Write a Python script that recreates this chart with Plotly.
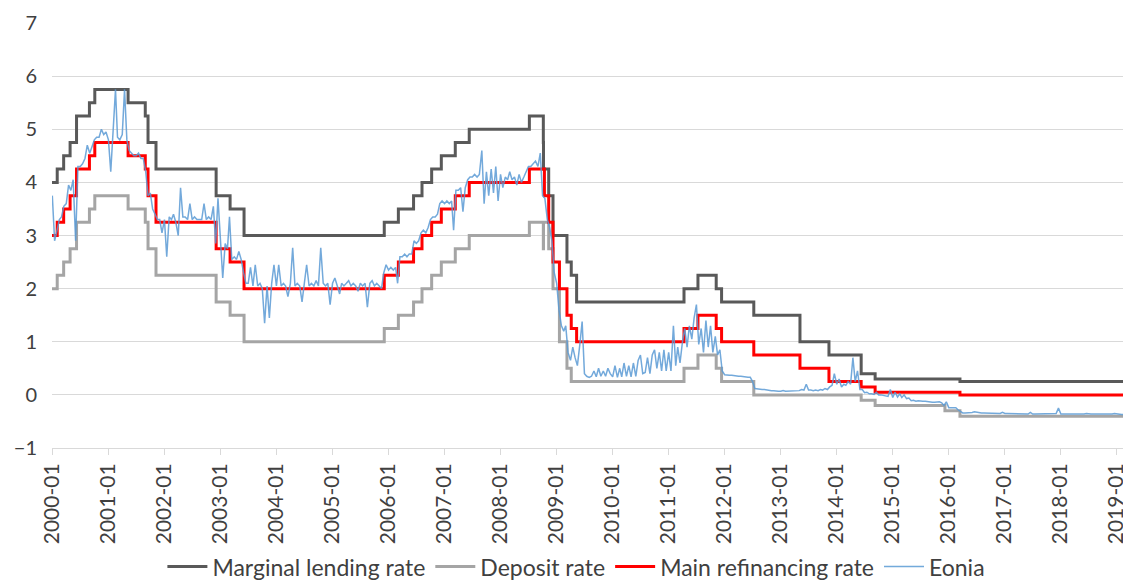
import pandas as pd
import plotly.graph_objects as go

# ---------------- Policy rates (change dates and levels) ----------------
mlf_dates = ["2000-01-01", "2000-02-04", "2000-03-17", "2000-04-28", "2000-06-09", "2000-09-01",
             "2000-10-06", "2001-05-11", "2001-08-31", "2001-09-18", "2001-11-09", "2002-12-06",
             "2003-03-07", "2003-06-06", "2005-12-06", "2006-03-08", "2006-06-15", "2006-08-09",
             "2006-10-11", "2006-12-13", "2007-03-14", "2007-06-13", "2008-07-09", "2008-10-08",
             "2008-10-09", "2008-11-12", "2008-12-10", "2009-03-11", "2009-04-08", "2009-05-13",
             "2011-04-13", "2011-07-13", "2011-11-09", "2011-12-14", "2012-07-11", "2013-05-08",
             "2013-11-13", "2014-06-11", "2014-09-10", "2016-03-16", "2019-03-31"]
mlf_values = [4.00, 4.25, 4.50, 4.75, 5.25, 5.50,
              5.75, 5.50, 5.25, 4.75, 4.25, 3.75,
              3.50, 3.00, 3.25, 3.50, 3.75, 4.00,
              4.25, 4.50, 4.75, 5.00, 5.25, 4.75,
              4.25, 3.75, 3.00, 2.50, 2.25, 1.75,
              2.00, 2.25, 2.00, 1.75, 1.50, 1.00,
              0.75, 0.40, 0.30, 0.25, 0.25]

dep_dates = ["2000-01-01", "2000-02-04", "2000-03-17", "2000-04-28", "2000-06-09", "2000-09-01",
             "2000-10-06", "2001-05-11", "2001-08-31", "2001-09-18", "2001-11-09", "2002-12-06",
             "2003-03-07", "2003-06-06", "2005-12-06", "2006-03-08", "2006-06-15", "2006-08-09",
             "2006-10-11", "2006-12-13", "2007-03-14", "2007-06-13", "2008-07-09", "2008-10-08",
             "2008-10-09", "2008-11-12", "2008-12-10", "2009-01-21", "2009-03-11", "2009-04-08",
             "2011-04-13", "2011-07-13", "2011-11-09", "2011-12-14", "2012-07-11", "2014-06-11",
             "2014-09-10", "2015-12-09", "2016-03-16", "2019-03-31"]
dep_values = [2.00, 2.25, 2.50, 2.75, 3.25, 3.50,
              3.75, 3.50, 3.25, 2.75, 2.25, 1.75,
              1.50, 1.00, 1.25, 1.50, 1.75, 2.00,
              2.25, 2.50, 2.75, 3.00, 3.25, 2.75,
              3.25, 2.75, 2.00, 1.00, 0.50, 0.25,
              0.50, 0.75, 0.50, 0.25, 0.00, -0.10,
              -0.20, -0.30, -0.40, -0.40]

mro_dates = ["2000-01-01", "2000-02-04", "2000-03-17", "2000-04-28", "2000-06-09", "2000-09-01",
             "2000-10-06", "2001-05-11", "2001-08-31", "2001-09-18", "2001-11-09", "2002-12-06",
             "2003-03-07", "2003-06-06", "2005-12-06", "2006-03-08", "2006-06-15", "2006-08-09",
             "2006-10-11", "2006-12-13", "2007-03-14", "2007-06-13", "2008-07-09", "2008-10-15",
             "2008-11-12", "2008-12-10", "2009-01-21", "2009-03-11", "2009-04-08", "2009-05-13",
             "2011-04-13", "2011-07-13", "2011-11-09", "2011-12-14", "2012-07-11", "2013-05-08",
             "2013-11-13", "2014-06-11", "2014-09-10", "2016-03-16", "2019-03-31"]
mro_values = [3.00, 3.25, 3.50, 3.75, 4.25, 4.50,
              4.75, 4.50, 4.25, 3.75, 3.25, 2.75,
              2.50, 2.00, 2.25, 2.50, 2.75, 3.00,
              3.25, 3.50, 3.75, 4.00, 4.25, 3.75,
              3.25, 2.50, 2.00, 1.50, 1.25, 1.00,
              1.25, 1.50, 1.25, 1.00, 0.75, 0.50,
              0.25, 0.15, 0.05, 0.00, 0.00]

# ---------------- Eonia (two readings per month) ----------------
eonia_2000 = [3.75, 2.90, 3.10, 3.30, 3.35, 3.55, 3.60, 3.95, 3.85, 4.05, 2.90, 4.30,
              4.30, 4.35, 4.45, 4.70, 4.55, 4.70, 4.80, 4.85, 4.85, 5.00, 4.90, 4.95]
eonia_2001 = [4.80, 4.20, 4.90, 5.75, 4.85, 4.80, 4.90, 5.75, 4.80, 4.60, 4.55, 4.50,
              4.50, 4.55, 4.45, 4.45, 4.20, 3.75, 3.80, 3.50, 3.40, 3.30, 3.30, 3.05]
eonia_2002 = [3.30, 2.60, 3.35, 3.30, 3.40, 3.25, 3.00, 3.90, 3.35, 3.35, 3.30, 3.60,
              3.30, 3.35, 3.30, 3.30, 3.30, 3.60, 3.30, 3.35, 3.30, 3.55, 2.85, 3.70]
eonia_2003 = [2.80, 2.20, 2.85, 2.75, 3.35, 2.55, 2.60, 2.55, 2.70, 2.55, 2.30, 2.10,
              2.10, 2.40, 2.05, 2.45, 2.05, 2.10, 2.00, 1.35, 2.05, 1.45, 2.10, 2.45]
eonia_2004 = [2.05, 2.45, 2.05, 2.10, 2.05, 1.85, 2.10, 2.77, 2.05, 2.10, 2.05, 1.75,
              2.10, 2.45, 2.05, 2.10, 2.05, 2.15, 2.05, 2.77, 2.10, 2.05, 2.10, 1.70]
eonia_2005 = [2.10, 2.20, 2.05, 1.90, 2.10, 2.05, 2.10, 2.15, 2.05, 2.10, 2.05, 1.95,
              2.10, 2.05, 2.10, 1.65, 2.10, 2.15, 2.05, 2.10, 2.05, 2.00, 2.30, 2.45]
eonia_2006 = [2.35, 2.40, 2.35, 2.40, 2.10, 2.60, 2.60, 2.65, 2.60, 2.65, 2.65, 2.90,
              2.85, 2.90, 3.05, 3.10, 3.05, 3.15, 3.30, 3.35, 3.35, 3.40, 3.60, 3.65]
eonia_2007 = [3.60, 3.65, 3.60, 3.65, 3.10, 3.85, 3.85, 3.90, 3.45, 3.90, 4.05, 4.10,
              4.10, 4.15, 4.10, 4.15, 4.60, 3.60, 4.20, 3.75, 4.25, 3.80, 4.30, 3.65]
eonia_2008 = [4.15, 3.90, 4.10, 4.05, 4.20, 4.05, 4.10, 3.95, 4.15, 4.00, 4.10, 4.20,
              4.30, 4.30, 4.35, 4.40, 4.30, 4.55, 3.75, 3.70, 3.30, 3.15, 2.90, 2.30]
eonia_2009 = [2.10, 1.60, 1.30, 1.20, 1.30, 0.80, 0.65, 0.90, 0.70, 0.55, 0.95, 1.38,
              0.40, 0.35, 0.33, 0.35, 0.45, 0.34, 0.50, 0.35, 0.45, 0.35, 0.50, 0.40]
eonia_2010 = [0.34, 0.55, 0.33, 0.50, 0.34, 0.60, 0.35, 0.55, 0.34, 0.60, 0.35, 0.65,
              0.75, 0.40, 0.42, 0.70, 0.40, 0.75, 0.85, 0.50, 0.80, 0.45, 0.85, 0.45]
eonia_2011 = [0.80, 0.45, 1.30, 0.55, 0.90, 0.60, 1.00, 1.25, 0.90, 1.30, 1.05, 1.45,
              1.70, 0.95, 1.25, 0.80, 1.40, 0.90, 1.30, 0.80, 1.10, 0.75, 0.85, 0.45]
eonia_2012 = [0.38, 0.37, 0.37, 0.37, 0.36, 0.36, 0.35, 0.35, 0.34, 0.34, 0.33, 0.33,
              0.25, 0.12, 0.11, 0.11, 0.10, 0.10, 0.09, 0.09, 0.08, 0.08, 0.07, 0.07]
eonia_2013 = [0.07, 0.08, 0.07, 0.07, 0.07, 0.08, 0.07, 0.08, 0.08, 0.10, 0.09, 0.20,
              0.09, 0.09, 0.08, 0.09, 0.08, 0.10, 0.09, 0.12, 0.10, 0.15, 0.18, 0.40]
eonia_2014 = [0.20, 0.30, 0.15, 0.20, 0.18, 0.25, 0.20, 0.70, 0.25, 0.45, 0.10, 0.10,
              0.04, 0.05, 0.02, 0.02, 0.01, 0.05, 0.00, 0.00, -0.01, -0.01, -0.03, 0.10]
eonia_2015 = [-0.05, 0.05, -0.04, 0.02, -0.05, 0.00, -0.07, -0.06, -0.11, -0.10, -0.12, -0.11,
              -0.12, -0.12, -0.12, -0.13, -0.14, -0.14, -0.14, -0.14, -0.13, -0.15, -0.20, -0.13]
eonia_2016 = [-0.24, -0.24, -0.24, -0.24, -0.28, -0.31, -0.34, -0.34, -0.34, -0.34, -0.33, -0.32,
              -0.33, -0.33, -0.34, -0.34, -0.34, -0.34, -0.35, -0.35, -0.35, -0.35, -0.35, -0.33]
eonia_2017 = [-0.35, -0.35, -0.35, -0.36, -0.35, -0.36, -0.36, -0.36, -0.36, -0.36, -0.36, -0.33,
              -0.36, -0.36, -0.36, -0.36, -0.36, -0.36, -0.36, -0.36, -0.35, -0.35, -0.35, -0.25]
eonia_2018 = [-0.36, -0.36, -0.36, -0.36, -0.36, -0.36, -0.37, -0.37, -0.36, -0.36, -0.36, -0.35,
              -0.36, -0.36, -0.36, -0.36, -0.36, -0.36, -0.37, -0.37, -0.36, -0.36, -0.36, -0.35]
eonia_2019 = [-0.36, -0.37, -0.37, -0.37, -0.37, -0.37]

eonia_by_year = {2000: eonia_2000, 2001: eonia_2001, 2002: eonia_2002, 2003: eonia_2003,
                 2004: eonia_2004, 2005: eonia_2005, 2006: eonia_2006, 2007: eonia_2007,
                 2008: eonia_2008, 2009: eonia_2009, 2010: eonia_2010, 2011: eonia_2011,
                 2012: eonia_2012, 2013: eonia_2013, 2014: eonia_2014, 2015: eonia_2015,
                 2016: eonia_2016, 2017: eonia_2017, 2018: eonia_2018, 2019: eonia_2019}

tick_years = list(range(2000, 2020))
tick_labels = [f"{y}-01" for y in tick_years]

# ---------------- Build Eonia dates (two readings per month) ----------------
eonia_x, eonia_y = [], []
for year, vals in eonia_by_year.items():
    for i, v in enumerate(vals):
        month = i // 2 + 1
        day = 3 if i % 2 == 0 else 18
        eonia_x.append(pd.Timestamp(year=year, month=month, day=day))
        eonia_y.append(v)

FONT = "Lato"
TXT = "#404040"

fig = go.Figure()
fig.add_trace(go.Scatter(x=mlf_dates, y=mlf_values, mode="lines", line_shape="hv",
                         name="Marginal lending rate", line=dict(color="#595959", width=3)))
fig.add_trace(go.Scatter(x=dep_dates, y=dep_values, mode="lines", line_shape="hv",
                         name="Deposit rate", line=dict(color="#a5a5a5", width=3)))
fig.add_trace(go.Scatter(x=mro_dates, y=mro_values, mode="lines", line_shape="hv",
                         name="Main refinancing rate", line=dict(color="#ff0000", width=3)))
fig.add_trace(go.Scatter(x=eonia_x, y=eonia_y, mode="lines", name="Eonia", opacity=0.85,
                         line=dict(color="#5b9bd5", width=1.5)))

# The page body has an 8px default margin, so the figure is sized 8px smaller.
fig.update_layout(
    width=1123, height=575,
    margin=dict(l=44, r=0, t=15, b=135, autoexpand=False),
    paper_bgcolor="white", plot_bgcolor="white",
    font=dict(family=FONT, size=20, color=TXT),
    showlegend=True,
    legend=dict(orientation="h", x=0.486, xanchor="center", y=-0.279, yanchor="middle",
                font=dict(family=FONT, size=23, color=TXT),
                itemwidth=40, traceorder="normal"),
)
fig.update_xaxes(
    type="date", range=["2000-01-01", "2019-04-05"], automargin=False,
    tickvals=[f"{y}-01-01" for y in tick_years], ticktext=tick_labels,
    tickangle=-90, showgrid=False, showline=True, linecolor="#d9d9d9", linewidth=1,
    ticks="outside", ticklen=6, tickcolor="#d9d9d9",
    tickfont=dict(family=FONT, size=21, color=TXT), zeroline=False,
)
fig.update_yaxes(
    range=[-1, 7], dtick=1, showgrid=True, gridcolor="#d9d9d9", gridwidth=1, automargin=False,
    zeroline=False, showline=False, ticks="", ticklabelstandoff=14,
    tickfont=dict(family=FONT, size=20, color=TXT),
)

fig.write_html("out.html")
